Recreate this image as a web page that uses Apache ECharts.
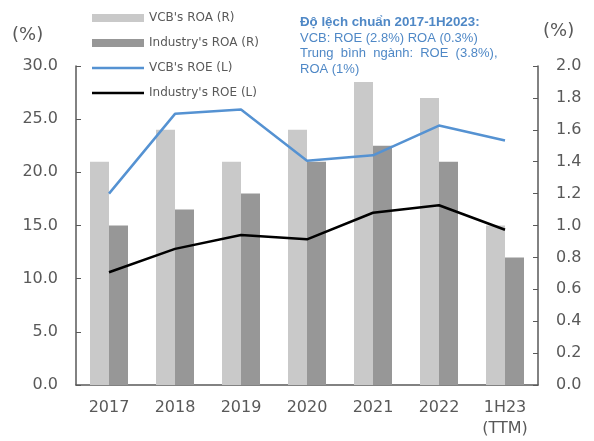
<!DOCTYPE html>
<html>
<head>
<meta charset="utf-8">
<script src="https://cdn.jsdelivr.net/npm/echarts@6/dist/echarts.min.js"></script>
<style>
  html, body { margin: 0; padding: 0; background: #fff; }
  #chart { width: 594px; height: 441px; }
</style>
</head>
<body>
<div id="chart"></div>
<script>
// ROE / ROA, VCB vs ngành
const years = ['2017', '2018', '2019', '2020', '2021', '2022', '1H23\n(TTM)'];
const vcbRoa = [1.4, 1.6, 1.4, 1.6, 1.9, 1.8, 1.0];
const industryRoa = [1.0, 1.1, 1.2, 1.4, 1.5, 1.4, 0.8];
const vcbRoe = [18.0, 25.5, 25.9, 21.1, 21.6, 24.4, 23.0];
const industryRoe = [10.6, 12.8, 14.1, 13.7, 16.2, 16.9, 14.6];

const axisColor = '#595959';
const labelFont = { color: '#595959', fontFamily: 'DejaVu Sans', fontSize: 16 };
const noteColor = '#4f88c6';
const lineIcon = 'path://M0,0 L52,0 L52,2.5 L0,2.5 Z';

const chart = echarts.init(document.getElementById('chart'));
chart.setOption({
  animation: false,
  grid: { left: 76, right: 56, top: 66, bottom: 56 },
  legend: {
    orient: 'vertical',
    left: 92,
    top: 12,
    padding: 0,
    itemWidth: 52,
    itemHeight: 8,
    itemGap: 13,
    textStyle: { color: '#595959', fontFamily: 'DejaVu Sans', fontSize: 12 },
    data: [
      { name: "VCB's ROA (R)", icon: 'rect' },
      { name: "Industry's ROA (R)", icon: 'rect' },
      { name: "VCB's ROE (L)", icon: lineIcon },
      { name: "Industry's ROE (L)", icon: lineIcon }
    ]
  },
  graphic: [
    { type: 'text', left: 12, top: 26, style: { text: '(%)', fill: axisColor, font: '18px DejaVu Sans' } },
    { type: 'text', left: 543, top: 22, style: { text: '(%)', fill: axisColor, font: '18px DejaVu Sans' } },
    {
      type: 'text', left: 300, top: 15,
      style: {
        text: '{b|Độ lệch chuẩn 2017-1H2023:}\nVCB: ROE (2.8%) ROA (0.3%)\nTrung  bình  ngành:  ROE  (3.8%),\nROA (1%)',
        fill: noteColor,
        fontFamily: 'Liberation Sans',
        fontSize: 13,
        lineHeight: 15.5,
        rich: {
          b: { fontWeight: 'bold', fill: noteColor, fontFamily: 'Liberation Sans', fontSize: 13.3, lineHeight: 15.5 }
        }
      }
    }
  ],
  xAxis: {
    type: 'category',
    data: years,
    axisLine: { lineStyle: { color: axisColor, width: 1.5 } },
    axisTick: { inside: true, length: 5, lineStyle: { color: axisColor } },
    axisLabel: Object.assign({ margin: 12, lineHeight: 21 }, labelFont)
  },
  yAxis: [
    {
      type: 'value', min: 0, max: 30, interval: 5, position: 'left',
      splitLine: { show: false },
      axisLine: { show: true, lineStyle: { color: axisColor, width: 1.5 } },
      axisTick: { show: true, inside: true, length: 5, lineStyle: { color: axisColor } },
      axisLabel: Object.assign({ margin: 18, formatter: v => v.toFixed(1) }, labelFont)
    },
    {
      type: 'value', min: 0, max: 2, interval: 0.2, position: 'right',
      splitLine: { show: false },
      axisLine: { show: true, lineStyle: { color: axisColor, width: 1.5 } },
      axisTick: { show: true, inside: true, length: 5, lineStyle: { color: axisColor } },
      axisLabel: Object.assign({ margin: 18, formatter: v => v.toFixed(1) }, labelFont)
    }
  ],
  series: [
    {
      name: "VCB's ROA (R)", type: 'bar', yAxisIndex: 1, data: vcbRoa,
      barWidth: 19, barGap: '0%', itemStyle: { color: '#c9c9c9' }
    },
    {
      name: "Industry's ROA (R)", type: 'bar', yAxisIndex: 1, data: industryRoa,
      barWidth: 19, itemStyle: { color: '#979797' }
    },
    {
      name: "VCB's ROE (L)", type: 'line', yAxisIndex: 0, data: vcbRoe,
      symbol: 'none', lineStyle: { color: '#5592d2', width: 2.5 }, itemStyle: { color: '#5592d2' }
    },
    {
      name: "Industry's ROE (L)", type: 'line', yAxisIndex: 0, data: industryRoe,
      symbol: 'none', lineStyle: { color: '#000', width: 2.5 }, itemStyle: { color: '#000' }
    }
  ]
});
</script>
</body>
</html>
